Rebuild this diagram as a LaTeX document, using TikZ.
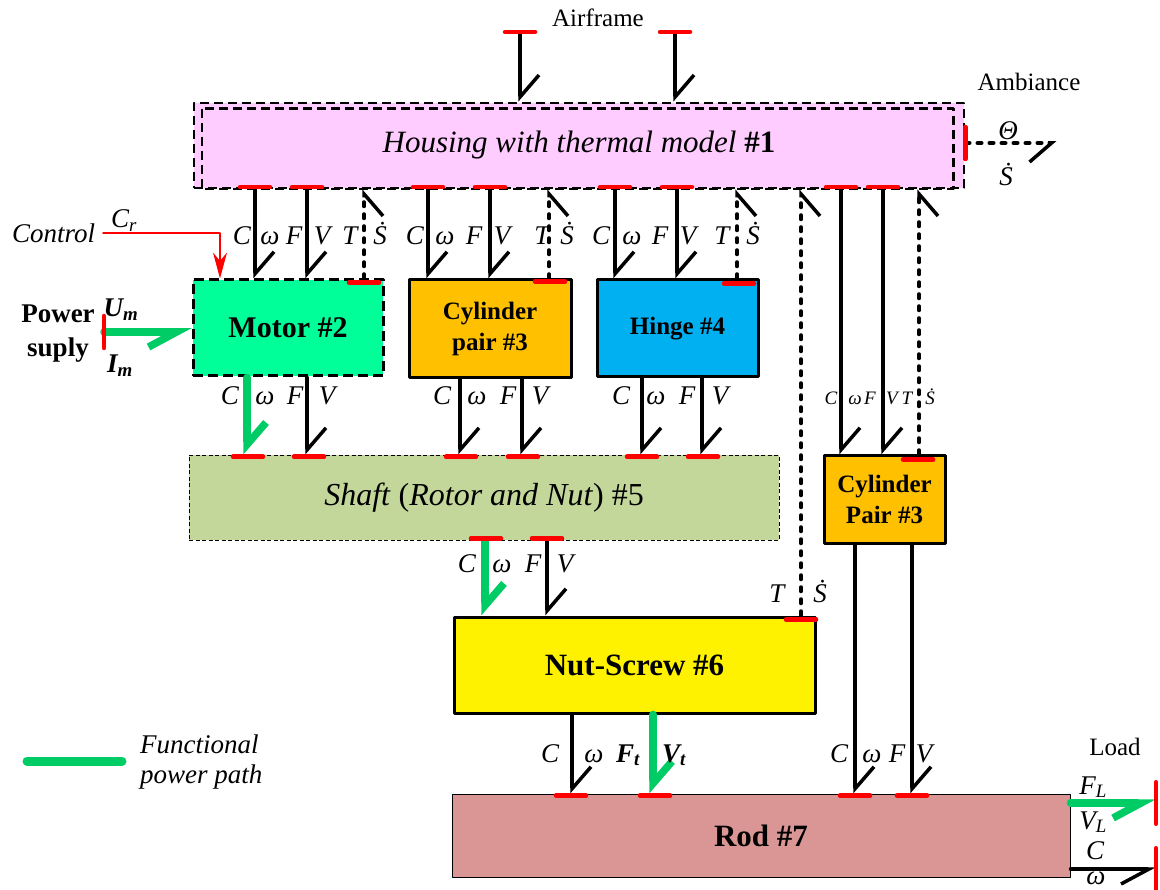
\documentclass[tikz,border=0pt]{standalone}
\usepackage{fontspec}
\setmainfont{Liberation Serif}
\usetikzlibrary{arrows.meta, calc, positioning}
\definecolor{pwrgreen}{HTML}{00CC66}
\definecolor{housepink}{HTML}{FFCCFF}
\definecolor{motorgreen}{HTML}{00FF99}
\definecolor{cylorange}{HTML}{FFC000}
\definecolor{hingeblue}{HTML}{00B0F0}
\definecolor{shaftgreen}{HTML}{C4D79B}
\definecolor{rodpink}{HTML}{D99694}
\tikzset{
  >={Stealth[length=26pt, width=14pt]},
  every picture/.style={line cap=round, line join=round},
  barbl/.tip={Straight Barb[harpoon, length=22pt, width=38pt]},
  barbr/.tip={Straight Barb[harpoon, swap, length=22pt, width=38pt]},
  barbf/.tip={Straight Barb[harpoon, swap, length=28pt, width=30pt]},
  bond/.style={line width=3.5pt, -barbl},
  bondr/.style={line width=3.5pt, -barbf},
  sbond/.style={line width=3.5pt, dash pattern=on 4.5pt off 7.5pt, -barbr},
  pbond/.style={line width=7.5pt, pwrgreen, -barbl},
  pbondr/.style={line width=7.5pt, pwrgreen, -barbf},
  ctrl/.style={red, line width=1.5pt, ->},
  box/.style={draw, line width=3pt, line cap=butt, inner sep=0pt, align=center,
    font=\fontsize{25}{31}\selectfont\bfseries},
  bigbox/.style={box, font=\fontsize{31}{36}\selectfont\bfseries},
  hsborder/.style={line width=2.5pt, line cap=butt, dash pattern=on 9pt off 5pt},
  lab/.style={inner sep=0pt, anchor=base, font=\fontsize{27}{30}\selectfont\itshape},
  slab/.style={lab, font=\fontsize{19}{22}\selectfont\itshape},
  blab/.style={lab, font=\fontsize{27}{30}\selectfont\bfseries\itshape},
  txt/.style={inner sep=0pt, anchor=base, font=\fontsize{25}{30}\selectfont},
  btxt/.style={txt, font=\fontsize{27}{30}\selectfont\bfseries},
  % causal strokes
  hbar/.pic={\draw[red, line width=4.5pt] (-15,0) -- (15,0);},
  vbar/.pic={\draw[red, line width=4.5pt] (0,-16) -- (0,16);},
}
\begin{document}
\begin{tikzpicture}[x=1pt, y=-1pt]
  \useasboundingbox (0,0) rectangle (1160,890);
  % blocks
  \node[box, hsborder, fill=housepink, minimum width=770pt, minimum height=85pt,
    font=\fontsize{31}{36}\selectfont] (housing) at (579,145.5)
    {\textit{Housing with thermal model} \textbf{\#1}};
  \draw[hsborder] ([shift={(9,7)}]housing.north west) rectangle ([shift={(-12,0)}]housing.south east);
  \node[bigbox, dash pattern=on 10pt off 5pt, fill=motorgreen, minimum width=190pt, minimum height=96pt,
    font=\fontsize{30}{36}\selectfont\bfseries] (motor) at (288,328) {Motor \#2};
  \node[box, fill=cylorange, minimum width=162pt, minimum height=98pt] (cylA) at (490,329) {Cylinder\\pair \#3};
  \node[box, fill=hingeblue, minimum width=161pt, minimum height=97pt] (hinge) at (677.5,328.5) {Hinge \#4};
  \node[box, line width=0.8pt, dash pattern=on 4pt off 2.5pt, fill=shaftgreen, minimum width=590pt, minimum height=85pt,
    font=\fontsize{32}{36}\selectfont] (shaft) at (484,497.5) {\textit{Shaft} (\textit{Rotor and Nut}) \#5};
  \node[box, fill=cylorange, minimum width=121pt, minimum height=87pt] (cylB) at (884.5,499.5) {Cylinder\\Pair \#3};
  \node[bigbox, fill=yellow, minimum width=361pt, minimum height=96pt] (nut) at (634.5,665) {Nut-Screw \#6};
  \node[bigbox, line width=1pt, fill=rodpink, minimum width=618pt, minimum height=83pt] (rod) at (761,835.5) {Rod \#7};

  % airframe and ambiance
  \coordinate (af1) at (520,32);
  \coordinate (af2) at (675,32);
  \draw[bond] (af1) -- (af1 |- housing.north);
  \draw[bond] (af2) -- (af2 |- housing.north);
  \pic at (af1) {hbar};
  \pic at (af2) {hbar};
  \node[txt] (airframe) at (598,27) {Airframe};
  \draw[sbond] ([yshift=2.5]housing.east) -- ++(91,0) coordinate (amb);
  \pic at ([yshift=2.5]housing.east) {vbar};
  \node[txt] (ambiance) at (1029,91) {Ambiance};
  \node[lab] (theta) at (1008,140) {Θ};
  \node[lab] (sdot) at (1006,186) {\.{S}};

  % housing to blocks
  \foreach \x in {255,307} \draw[bond] (housing.south -| \x,0) -- (motor.north -| \x,0);
  \foreach \x in {428,490} \draw[bond] (housing.south -| \x,0) -- (cylA.north -| \x,0);
  \foreach \x in {615,677} \draw[bond] (housing.south -| \x,0) -- (hinge.north -| \x,0);
  \foreach \x in {841,883} \draw[bond] (housing.south -| \x,0) -- (cylB.north -| \x,0);
  \draw[sbond] (motor.north -| 364,0) -- (housing.south -| 364,0);
  \draw[sbond] (cylA.north -| 549,0) -- (housing.south -| 549,0);
  \draw[sbond] (hinge.north -| 737,0) -- (housing.south -| 737,0);
  \draw[sbond] (nut.north -| 801,0) -- (housing.south -| 801,0);
  \draw[sbond] (cylB.north -| 919,0) -- (housing.south -| 919,0);
  \foreach \x in {255,307,428,490,615,677,841,883} \pic at ([yshift=2]housing.south -| \x,0) {hbar};
  \pic at ([yshift=-4]motor.north -| 364,0) {hbar};
  \pic at ([yshift=-3]cylA.north -| 550,0) {hbar};
  \pic at ([yshift=-5]hinge.north -| 739,0) {hbar};
  \pic at ([yshift=-4]nut.north -| 801,0) {hbar};
  \pic at ([yshift=-5]cylB.north -| 918,0) {hbar};

  % blocks to shaft
  \draw[pbond] (motor.south -| 247,0) -- (shaft.north -| 247,0);
  \draw[bond] (motor.south -| 307,0) -- (shaft.north -| 307,0);
  \foreach \x in {460,522} \draw[bond] (cylA.south -| \x,0) -- (shaft.north -| \x,0);
  \foreach \x in {642,702} \draw[bond] (hinge.south -| \x,0) -- (shaft.north -| \x,0);
  \foreach \x in {248,309,461,523,642,703} \pic at ([yshift=-2]shaft.north -| \x,0) {hbar};

  % shaft to nut-screw
  \draw[pbond] (shaft.south -| 485,0) -- (nut.north -| 485,0);
  \draw[bond] (shaft.south -| 547,0) -- (nut.north -| 547,0);
  \foreach \x in {486,547} \pic at ([yshift=2]shaft.south -| \x,0) {hbar};

  % to rod
  \draw[bond] (nut.south -| 572,0) -- (rod.north -| 572,0);
  \draw[pbond] (nut.south -| 653,0) -- (rod.north -| 653,0);
  \foreach \x in {855,912} \draw[bond] (cylB.south -| \x,0) -- (rod.north -| \x,0);
  \foreach \x in {571,655,855,912} \pic at ([yshift=-2]rod.north -| \x,0) {hbar};

  % load
  \coordinate (ldF) at (1156,803);
  \coordinate (ldC) at (1156,869);
  \draw[pbondr] (rod.east |- ldF) -- (ldF);
  \draw[bondr] (rod.east |- ldC) -- (ldC);
  \pic[yscale=1.3] at (ldF) {vbar};
  \pic[yscale=1.3] at (ldC) {vbar};
  \node[txt] (load) at (1115,755) {Load};
  \node[lab] (fl) at (1093,794) {F\textsubscript{L}};
  \node[lab] (vl) at (1093,829) {V\textsubscript{L}};
  \node[lab] (cl) at (1095,859) {C};
  \node[lab] (wl) at (1096,884) {ω};

  % power supply and control
  \coordinate (ps) at (104,332);
  \draw[pbondr] (ps) -- (ps -| motor.west);
  \pic at (ps) {vbar};
  \node[btxt] (power) at (58,323) {Power};
  \node[btxt] (suply) at (58,357) {suply};
  \node[blab] (um) at (121,317) {U\textsubscript{m}};
  \node[blab] (im) at (120,373) {I\textsubscript{m}};
  \coordinate (ctl) at (103,233);
  \draw[ctrl] (ctl) -| (motor.north -| 220,0);
  \node[lab, anchor=base west] (control) at (12,243) {Control};
  \node[lab] (cr) at (124,228) {C\textsubscript{r}};

  % bond labels
  \foreach \t/\x [count=\i] in {C/242,ω/270,F/294,V/322,T/350,\.{S}/380,C/415,ω/445,F/474,V/502,T/542,\.{S}/567,C/601,ω/632,F/660,V/688,T/722,\.{S}/753}
    \node[lab] (ta\i) at (\x,245) {\t};
  \foreach \t/\x [count=\i] in {C/230,ω/265,F/295,V/327,C/442,ω/477,F/508,V/540,C/621,ω/656,F/687,V/720}
    \node[lab] (tb\i) at (\x,405) {\t};
  \foreach \t/\x [count=\i] in {C/831,ω/855,F/870,V/892,T/907,\.{S}/930}
    \node[slab] (tc\i) at (\x,405) {\t};
  \foreach \t/\x [count=\i] in {C/467,ω/502,F/533,V/565}
    \node[lab] (td\i) at (\x,572) {\t};
  \node[lab] (tnut) at (777,602) {T};
  \node[lab] (snut) at (820,602) {\.{S}};
  \foreach \t/\x [count=\i] in {C/550,ω/594,C/839,ω/872,F/897,V/924}
    \node[lab] (te\i) at (\x,762) {\t};
  \node[blab] (ft) at (628,762) {F\textsubscript{t}};
  \node[blab] (vt) at (674,762) {V\textsubscript{t}};

  % legend
  \draw[line width=9pt, pwrgreen] (27,761) -- ++(95,0);
  \node[lab, anchor=base west] (leg1) at (140,753) {Functional};
  \node[lab, anchor=base west] (leg2) at (140,783) {power path};
\end{tikzpicture}
\end{document}
